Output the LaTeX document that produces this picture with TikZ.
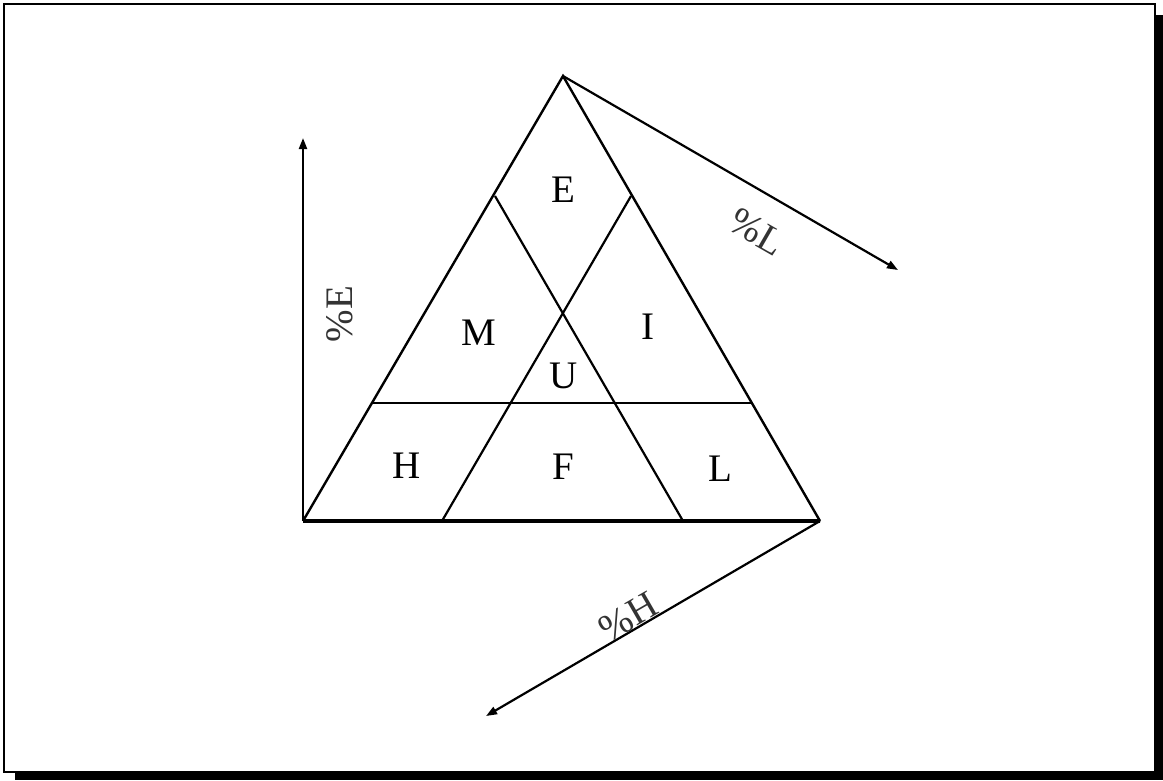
\documentclass[tikz,border=0pt]{standalone}
\usepackage{fontspec}
\setmainfont{Liberation Serif}
\usetikzlibrary{arrows.meta}
\begin{document}
\begin{tikzpicture}[x=1pt,y=-1pt,
  edge/.style={line width=2.4pt,line join=miter},
  thin/.style={line width=2.2pt},
  axis/.style={line width=2.2pt,-{Triangle[length=11pt,width=8pt]}},
  lab/.style={font=\fontsize{39}{40}\selectfont,inner sep=0pt},
  axlab/.style={font=\fontsize{39}{40}\selectfont,inner sep=0pt,text=black!80}]
\useasboundingbox (0,0) rectangle (1163,780);
% frame with shadow
\fill[black] (1156,15) rectangle (1163,780);
\fill[black] (15,773) rectangle (1163,780);
\draw[line width=1.4pt] (4,4) rectangle (1155,772);
% triangle
\coordinate (A) at (303,521);
\coordinate (B) at (820,521);
\coordinate (C) at (563,76);
\coordinate (P1) at (495,196);
\coordinate (Q1) at (683,521);
\coordinate (P2) at (631,196);
\coordinate (Q2) at (442,521);
\coordinate (R1) at (372,403);
\coordinate (R2) at (751,403);
\coordinate (Etop) at (303,138);
\coordinate (Lend) at (898,270);
\coordinate (Hend) at (486,716);
\draw[edge] (A) -- (C) -- (B);
\draw[line width=4pt] (A) -- (B);
\draw[thin] (P1) -- (Q1);
\draw[thin] (P2) -- (Q2);
\draw[thin] (R1) -- (R2);
% axes
\draw[axis] (A) -- (Etop);
\draw[axis] (C) -- (Lend);
\draw[axis] (B) -- (Hend);
% labels
\node[lab] (lE) at (563,190) {E};
\node[lab] (lM) at (479,333) {M};
\node[lab] (lI) at (648,327) {I};
\node[lab] (lU) at (564,376) {U};
\node[lab] (lH) at (407,466) {H};
\node[lab] (lF) at (563,467) {F};
\node[lab] (lL) at (720,469) {L};
\node[axlab,rotate=90] (pE) at (340,314) {\%E};
\node[axlab,rotate=-30] (pL) at (757,232) {\%L};
\node[axlab,rotate=30] (pH) at (628,617) {\%H};
\end{tikzpicture}
\end{document}
